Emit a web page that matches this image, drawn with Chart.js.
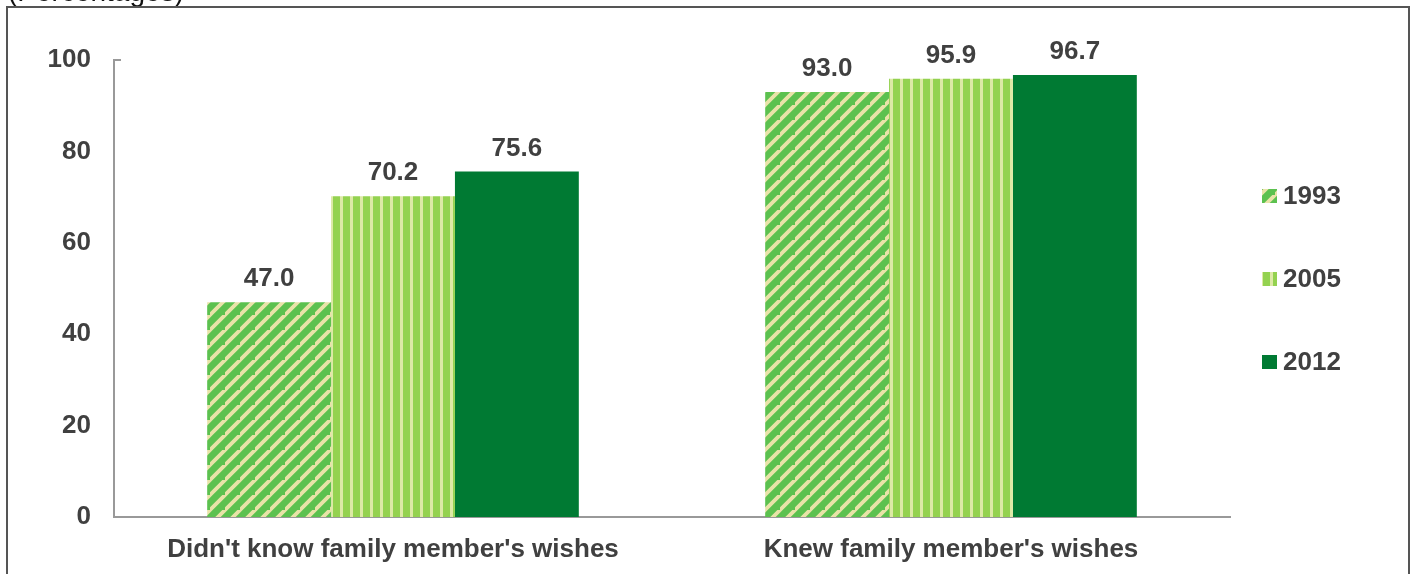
<!DOCTYPE html>
<html>
<head>
<meta charset="utf-8">
<script src="https://cdn.jsdelivr.net/npm/chart.js@4/dist/chart.umd.min.js"></script>
<style>
  html, body { margin: 0; padding: 0; background: #fff; }
  #wrap { width: 1413px; height: 574px; position: relative; }
</style>
</head>
<body>
<div id="wrap"><canvas id="wishes"></canvas></div>
<script>
(function () {
    "use strict";

    const categories = ["Didn't know family member's wishes", "Knew family member's wishes"];
    const years = ["1993", "2005", "2012"];
    const values1993 = [47.0, 93.0];
    const values2005 = [70.2, 95.9];
    const values2012 = [75.6, 96.7];
    const yTicks = [0, 20, 40, 60, 80, 100];

    const textColor = "#404040";
    const fontName = "'Liberation Sans', Arial, sans-serif";

    // diagonal hatch for 1993
    function diagonalPattern() {
        const s = 15;
        const c = document.createElement("canvas");
        c.width = s; c.height = s;
        const g = c.getContext("2d");
        g.fillStyle = "#5cc14f";
        g.fillRect(0, 0, s, s);
        g.strokeStyle = "#e9e3a8";
        g.lineWidth = 3.8;
        g.beginPath();
        g.moveTo(-2, s + 2); g.lineTo(s + 2, -2);
        g.moveTo(-2 - s, s + 2); g.lineTo(2, -2);
        g.moveTo(s - 2, 2 * s + 2); g.lineTo(2 * s + 2, s - 2);
        g.stroke();
        return g.createPattern(c, "repeat");
    }

    // vertical stripes for 2005
    function verticalPattern() {
        const w = 10;
        const c = document.createElement("canvas");
        c.width = w; c.height = 4;
        const g = c.getContext("2d");
        g.fillStyle = "#94d250";
        g.fillRect(0, 0, w, 4);
        g.fillStyle = "#dde9a6";
        g.fillRect(0, 0, 3, 4);
        return g.createPattern(c, "repeat");
    }

    const fills = [diagonalPattern(), verticalPattern(), "#007a33"];

    const frame = {
        id: "frame",
        beforeDraw(chart) {
            const ctx = chart.ctx;
            ctx.save();
            ctx.fillStyle = "#fff";
            ctx.fillRect(0, 0, chart.width, chart.height);
            ctx.fillStyle = "#111";
            ctx.font = "28px " + fontName;
            ctx.textBaseline = "alphabetic";
            ctx.fillText("(Percentages)", 8, 1);
            ctx.strokeStyle = "#555";
            ctx.lineWidth = 2;
            ctx.beginPath();
            ctx.moveTo(7, chart.height + 5);
            ctx.lineTo(7, 7);
            ctx.lineTo(1409, 7);
            ctx.lineTo(1409, chart.height + 5);
            ctx.stroke();
            // short stub at the top of the value axis
            const top = chart.chartArea.top;
            ctx.strokeStyle = "#999";
            ctx.beginPath();
            ctx.moveTo(chart.chartArea.left, top);
            ctx.lineTo(chart.chartArea.left + 7, top);
            ctx.stroke();
            ctx.restore();
        }
    };

    const valueLabels = {
        id: "valueLabels",
        afterDatasetsDraw(chart) {
            const ctx = chart.ctx;
            ctx.save();
            ctx.fillStyle = textColor;
            ctx.font = "bold 26px " + fontName;
            ctx.textAlign = "center";
            ctx.textBaseline = "alphabetic";
            chart.data.datasets.forEach((ds, i) => {
                chart.getDatasetMeta(i).data.forEach((bar, j) => {
                    ctx.fillText(ds.data[j].toFixed(1), bar.x, bar.y - 16);
                });
            });
            ctx.restore();
        }
    };

    const sideLegend = {
        id: "sideLegend",
        afterDraw(chart) {
            const ctx = chart.ctx;
            const rows = [196, 279, 362];
            ctx.save();
            ctx.font = "bold 26px " + fontName;
            ctx.textBaseline = "middle";
            chart.data.datasets.forEach((ds, i) => {
                ctx.fillStyle = ds.backgroundColor;
                ctx.fillRect(1262, rows[i] - 7, 15, 14);
                ctx.fillStyle = textColor;
                ctx.fillText(ds.label, 1283, rows[i] + 1);
            });
            ctx.restore();
        }
    };

    new Chart(document.getElementById("wishes"), {
        type: "bar",
        data: {
            labels: categories,
            datasets: [
                { label: years[0], data: values1993, backgroundColor: fills[0] },
                { label: years[1], data: values2005, backgroundColor: fills[1] },
                { label: years[2], data: values2012, backgroundColor: fills[2] }
            ]
        },
        options: {
            responsive: true,
            maintainAspectRatio: false,
            animation: false,
            categoryPercentage: 0.666,
            barPercentage: 1.0,
            layout: { padding: { left: 0, right: 183, top: 60, bottom: 0 } },
            plugins: {
                legend: { display: false },
                tooltip: { enabled: false }
            },
            scales: {
                x: {
                    grid: { display: false, drawTicks: false },
                    border: { color: "#999", width: 2 },
                    ticks: {
                        color: textColor,
                        font: { family: fontName, size: 26, weight: "bold" },
                        padding: 17,
                        maxRotation: 0
                    },
                    afterFit(scale) { scale.height = 57; }
                },
                y: {
                    min: 0,
                    max: 100,
                    afterBuildTicks(scale) { scale.ticks = yTicks.map(v => ({ value: v })); },
                    grid: { display: false, drawTicks: false },
                    border: { color: "#999", width: 2 },
                    ticks: {
                        color: textColor,
                        font: { family: fontName, size: 26, weight: "bold" },
                        padding: 23
                    },
                    afterFit(scale) { scale.width = 114; }
                }
            }
        },
        plugins: [frame, valueLabels, sideLegend]
    });
})();
</script>
</body>
</html>
